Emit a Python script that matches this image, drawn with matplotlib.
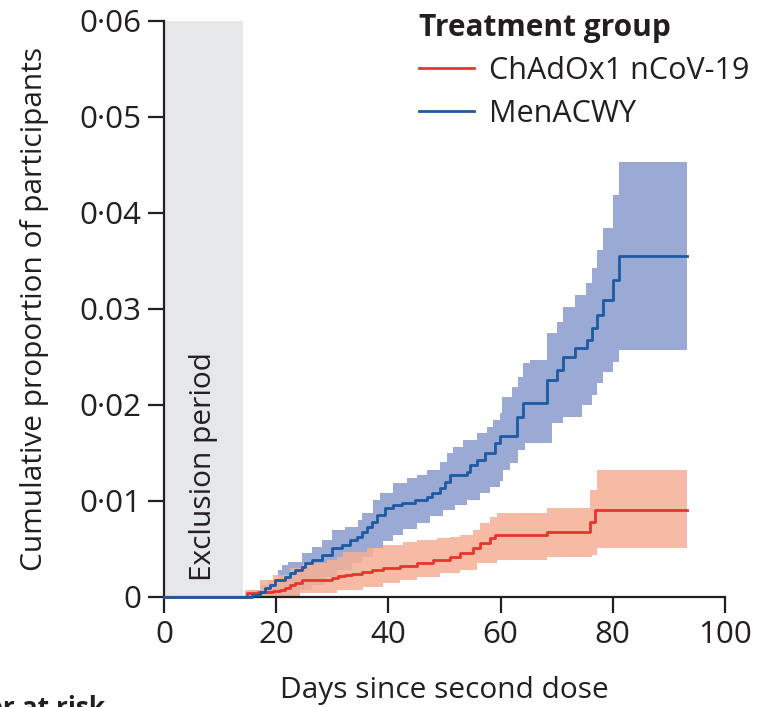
import matplotlib
matplotlib.use("Agg")
import matplotlib.pyplot as plt
from matplotlib import font_manager
import numpy as np

# ---------------- data ----------------
groups = ["ChAdOx1 nCoV-19", "MenACWY"]

blue_days = [0, 15.7, 17.1, 18.0, 18.9, 19.8, 21.6, 22.5, 23.4, 24.6, 25.1, 26.4, 28.2, 29.9, 31.7,
             33.2, 34.4, 35.3, 36.2, 37.1, 38.0, 39.4, 40.8, 42.4, 44.7, 46.9, 47.8, 49.2, 50.1,
             51.0, 54.0, 54.5, 55.8, 57.2, 59.0, 59.9, 62.9, 64.0, 68.3, 70.1, 71.1, 73.3, 75.4,
             76.3, 77.2, 78.3, 80.0, 81.1, 93.2]
blue_vals = [0, 0.0002, 0.0005, 0.0009, 0.0013, 0.0018, 0.0021, 0.0025, 0.0028, 0.0031, 0.0035,
             0.0039, 0.0044, 0.0051, 0.0054, 0.0059, 0.0063, 0.0068, 0.0073, 0.0078, 0.0085,
             0.0093, 0.0096, 0.0098, 0.0101, 0.0104, 0.0108, 0.0114, 0.0120, 0.0127, 0.0130,
             0.0138, 0.0143, 0.0150, 0.0160, 0.0168, 0.0188, 0.0202, 0.0226, 0.0236, 0.0250,
             0.0259, 0.0268, 0.0280, 0.0294, 0.0309, 0.0330, 0.0355, 0.0355]

blue_up_days = [0, 15.2, 17.1, 18.5, 20.3, 21.0, 22.1, 24.6, 26.4, 28.2, 29.9, 32.3, 34.6, 35.3,
                37.3, 38.5, 40.8, 43.3, 45.1, 46.9, 49.2, 50.4, 51.5, 53.3, 55.8, 57.6, 58.6,
                59.9, 60.2, 62.0, 63.1, 64.0, 65.2, 68.3, 70.1, 71.1, 73.3, 75.2, 76.3, 77.2,
                78.3, 80.0, 81.1, 93.2]
blue_up_vals = [0, 0.0007, 0.0013, 0.0018, 0.0028, 0.0033, 0.0036, 0.0046, 0.0052, 0.0059,
                0.0070, 0.0073, 0.0080, 0.0088, 0.0101, 0.0108, 0.0119, 0.0124, 0.0127, 0.0132,
                0.0141, 0.0150, 0.0156, 0.0164, 0.0171, 0.0177, 0.0184, 0.0192, 0.0208, 0.0219,
                0.0229, 0.0244, 0.0247, 0.0275, 0.0286, 0.0302, 0.0315, 0.0327, 0.0343, 0.0361,
                0.0384, 0.0419, 0.0453, 0.0453]

blue_lo_days = [0, 24.2, 26.4, 28.7, 30.8, 33.5, 35.3, 37.3, 39.0, 40.8, 42.6, 45.1, 47.4, 49.7,
                51.9, 54.0, 56.3, 58.1, 59.9, 60.4, 61.7, 63.1, 64.3, 69.2, 71.1, 74.5, 76.3,
                77.2, 78.3, 80.0, 81.1, 93.2]
blue_lo_vals = [0, 0.0007, 0.0013, 0.0021, 0.0028, 0.0035, 0.0042, 0.0051, 0.0058, 0.0065,
                0.0071, 0.0077, 0.0084, 0.0091, 0.0096, 0.0101, 0.0108, 0.0115, 0.0121, 0.0132,
                0.0140, 0.0153, 0.0160, 0.0181, 0.0188, 0.0200, 0.0210, 0.0223, 0.0234, 0.0245,
                0.0257, 0.0257]

red_days = [0, 14.8, 16.8, 19.4, 20.7, 21.6, 22.5, 23.4, 24.6, 29.9, 31.0, 32.3, 33.5, 35.3,
            37.1, 39.0, 42.1, 45.1, 48.0, 51.0, 52.8, 55.1, 56.3, 58.1, 59.0, 68.3, 75.9, 76.8,
            93.2]
red_vals = [0, 0.0004, 0.0005, 0.0006, 0.0007, 0.0009, 0.0013, 0.0015, 0.0018, 0.0020, 0.0022,
            0.0023, 0.0024, 0.0026, 0.0028, 0.0030, 0.0032, 0.0035, 0.0039, 0.0042, 0.0046,
            0.0051, 0.0056, 0.0061, 0.0065, 0.0068, 0.0078, 0.0091, 0.0091]

red_up_days = [0, 14.4, 17.1, 19.4, 22.5, 24.8, 29.1, 30.8, 31.9, 36.2, 39.0, 42.6, 45.1, 48.7,
               51.0, 52.8, 55.1, 56.3, 58.1, 59.4, 68.3, 75.9, 77.2, 93.2]
red_up_vals = [0, 0.0007, 0.0018, 0.0023, 0.0030, 0.0035, 0.0039, 0.0042, 0.0047, 0.0051,
               0.0054, 0.0057, 0.0059, 0.0061, 0.0063, 0.0065, 0.0070, 0.0077, 0.0083, 0.0088,
               0.0093, 0.0111, 0.0132, 0.0132]

red_lo_days = [0, 24.2, 30.8, 35.5, 39.0, 42.1, 45.1, 49.2, 52.8, 55.8, 59.4, 68.3, 76.3, 77.2,
               93.2]
red_lo_vals = [0, 0.0004, 0.0007, 0.0010, 0.0015, 0.0018, 0.0021, 0.0025, 0.0028, 0.0035,
               0.0039, 0.0042, 0.0044, 0.0051, 0.0051]

exclusion_end = 14
yticks = [0, 0.01, 0.02, 0.03, 0.04, 0.05, 0.06]
ytick_labels = ["0", "0·01", "0·02", "0.03", "0·04", "0·05", "0·06"]
xticks = [0, 20, 40, 60, 80, 100]

# ---------------- style ----------------
avail = {f.name for f in font_manager.fontManager.ttflist}
fam = "Open Sans" if "Open Sans" in avail else "DejaVu Sans"
plt.rcParams["font.family"] = [fam, "DejaVu Sans"]

BLUE = "#1d5aa3"
BLUE_BAND = "#9aaad4"
RED = "#e8352b"
RED_BAND = "#f6b096"
GRAY = "#e6e7e9"
INK = "#231f20"

fig = plt.figure(figsize=(7.58, 7.07), dpi=100)
ax = fig.add_axes([164 / 758, 1 - 597 / 707, (725 - 164) / 758, (597 - 21) / 707])

ax.axvspan(0, exclusion_end, color=GRAY, lw=0, zorder=0)


def band(days_lo, lo, days_up, up, color, alpha, z):
    grid = sorted(set(days_lo) | set(days_up))

    def at(ds, vs, x):
        idx = np.searchsorted(ds, x, side="right") - 1
        return vs[max(idx, 0)]

    lo_g = [at(days_lo, lo, g) for g in grid]
    up_g = [at(days_up, up, g) for g in grid]
    ax.fill_between(grid, lo_g, up_g, step="post", color=color, alpha=alpha, lw=0, zorder=z)


band(blue_lo_days, blue_lo_vals, blue_up_days, blue_up_vals, BLUE_BAND, 1.0, 1)
band(red_lo_days, red_lo_vals, red_up_days, red_up_vals, RED_BAND, 0.85, 2)

ax.step(red_days, red_vals, where="post", color=RED, lw=2.0, zorder=4, clip_on=False,
        label=groups[0])
ax.step(blue_days, blue_vals, where="post", color=BLUE, lw=2.0, zorder=5, clip_on=False,
        label=groups[1])

ax.set_xlim(0, 100)
ax.set_ylim(0, 0.06)
ax.set_xticks(xticks)
ax.set_xticklabels([str(t) for t in xticks])
ax.set_yticks(yticks)
ax.set_yticklabels(ytick_labels)

for s in ["top", "right"]:
    ax.spines[s].set_visible(False)
for s in ["left", "bottom"]:
    ax.spines[s].set_linewidth(1.6)
    ax.spines[s].set_color(INK)
ax.tick_params(axis="both", direction="out", length=11.5, width=1.6, color=INK,
               labelsize=22.5, labelcolor=INK, pad=5)

ax.set_xlabel("Days since second dose", fontsize=21.5, color=INK, labelpad=19)
ax.set_ylabel("Cumulative proportion of participants", fontsize=21.5, color=INK, labelpad=22)

ax.text(exclusion_end / 2, 0.0017, "Exclusion period", rotation=90, ha="center", va="bottom",
        fontsize=21.5, color=INK, zorder=3)

leg = ax.legend(title="Treatment group", loc="upper right", bbox_to_anchor=(1.066, 1.035),
                frameon=False, fontsize=22, title_fontsize=21.5, handlelength=1.8,
                handletextpad=0.5, borderaxespad=0, labelspacing=0.42)
leg.get_title().set_fontweight("bold")
leg._legend_box.align = "left"
for t in leg.get_texts():
    t.set_color(INK)
leg.get_title().set_color(INK)

fig.text(105 / 758, 1 - 695 / 707, "Number at risk", ha="right", va="top",
         fontsize=19, fontweight="bold", color=INK)

fig.savefig("out.png", dpi=100)
